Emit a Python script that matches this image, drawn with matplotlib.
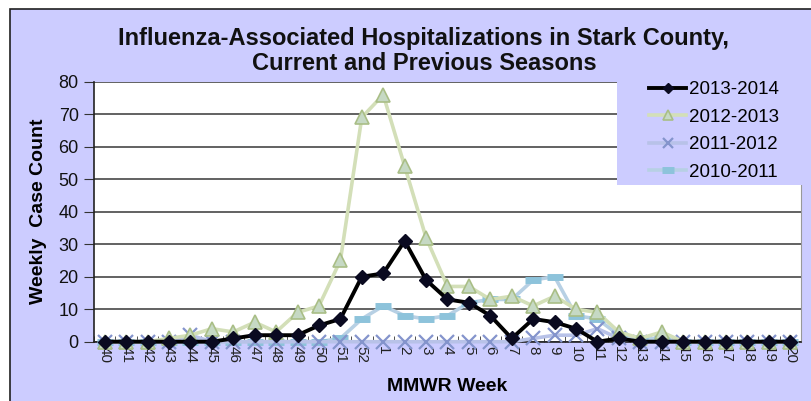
import numpy as np
import matplotlib
matplotlib.use("Agg")
import matplotlib.pyplot as plt

plt.rcParams['font.family'] = ['Liberation Sans', 'DejaVu Sans']

weeks = [str(w) for w in range(40, 53)] + [str(w) for w in range(1, 21)]

# weekly case counts, MMWR week 40 -> week 20
s2013_2014 = [0, 0, 0, 0, 0, 0, 1, 2, 2, 2, 5, 7, 20,
              21, 31, 19, 13, 12, 8, 1, 7, 6, 4, 0, 1, 0, 0, 0, 0, 0, 0, 0, 0]
s2012_2013 = [0, 0, 0, 1, 2, 4, 3, 6, 3, 9, 11, 25, 69,
              76, 54, 32, 17, 17, 13, 14, 11, 14, 10, 9, 3, 1, 3, 0, 0, 0, 0, 0, 0]
s2011_2012 = [0, 0, 0, 0, 2, 0, 0, 0, 0, 0, 0, 0, 0,
              0, 0, 0, 0, 0, 0, 0, 1, 2, 2, 4, 1, 0, 0, 0, 0, 0, 0, 0, 0]
s2010_2011 = [0, 0, 0, 0, 0, 0, 0, 0, 0, 0, 0, 1, 7,
              11, 8, 7, 8, 12, 13, 13, 19, 20, 8, 7, 2, 1, 1, 0, 0, 0, 0, 0, 0]

bg = '#CCCCFF'
W, H = 812, 401

fig = plt.figure(figsize=(W / 100, H / 100), dpi=100)
fig.patch.set_facecolor('white')
# lavender chart panel with dark frame
fig.patches.append(plt.Rectangle((10 / W, -0.01), 1.0, 1 - 9 / H + 0.01,
                                 transform=fig.transFigure, facecolor=bg,
                                 edgecolor='#202020', lw=1.2, zorder=-10))

ax = fig.add_axes([94 / W, 1 - 341.7 / H, 707 / W, 260 / H])
ax.set_facecolor('white')

x = np.arange(len(weeks))

ax.plot(x, s2010_2011, color='#B7D0E4', lw=2.6, marker='_', ms=12, mew=5,
        mec='#8DC3DB', label='2010-2011', zorder=3, clip_on=False)
ax.plot(x, s2011_2012, color='#B8C2E8', lw=2.6, marker='x', ms=10, mew=1.6,
        mec='#8494CC', label='2011-2012', zorder=4, clip_on=False)
ax.plot(x, s2012_2013, color='#D3DFB8', lw=2.6, marker='^', ms=10,
        mfc='#C6D9C4', mec='#A9BE86', mew=1.2, label='2012-2013', zorder=5,
        clip_on=False)
ax.plot(x, s2013_2014, color='black', lw=2.8, marker='D', ms=7.5,
        mfc='#0A0A20', mec='#0A0A20', label='2013-2014', zorder=6, clip_on=False)

ax.set_xlim(-0.5, len(weeks) - 0.5)
ax.set_ylim(0, 80)
ax.set_yticks(range(0, 81, 10))
ax.yaxis.grid(True, color='#555555', lw=1.3)
ax.set_axisbelow(True)

ax.set_xticks(x)
ax.set_xticklabels(weeks, rotation=-90, fontsize=11, color='#222222')
ax.set_xticks(np.arange(-0.5, len(weeks), 1), minor=True)
ax.tick_params(axis='x', which='major', length=0, pad=3)
ax.tick_params(axis='x', which='minor', length=4, direction='in', color='#333333')
ax.tick_params(axis='y', length=7, direction='out', labelsize=13, pad=4,
               color='#333333', labelcolor='#111111')

ax.spines['top'].set_visible(False)
ax.spines['right'].set_color('#999999')
ax.spines['left'].set_color('#222222')
ax.spines['bottom'].set_color('#222222')
ax.spines['left'].set_linewidth(1.2)
ax.spines['bottom'].set_linewidth(1.2)

ax.set_ylabel('Weekly  Case Count', fontsize=14, fontweight='bold', labelpad=8)
ax.set_xlabel('MMWR Week', fontsize=14, fontweight='bold', labelpad=11)

fig.text(0.522, 1 - 38 / H, 'Influenza-Associated Hospitalizations in Stark County,',
         ha='center', va='center', fontsize=17, fontweight='bold', color='#111111')
fig.text(0.522, 1 - 63 / H, 'Current and Previous Seasons',
         ha='center', va='center', fontsize=17, fontweight='bold', color='#111111')

# legend panel covers the top right of the plot area
fig.patches.append(plt.Rectangle((617 / W, 1 - 185 / H), 1.0, 115 / H,
                                 transform=fig.transFigure, facecolor=bg,
                                 edgecolor='none', zorder=8))
handles, labels = ax.get_legend_handles_labels()
order = [3, 2, 1, 0]
leg = fig.legend([handles[i] for i in order], [labels[i] for i in order],
                 loc='upper left', bbox_to_anchor=(640 / W, 1 - 72 / H),
                 frameon=False, fontsize=13.5, handlelength=1.95, handletextpad=0.15,
                 labelspacing=0.55, borderpad=0, markerscale=0.7)
leg.set_zorder(10)

fig.savefig('out.png', dpi=100, facecolor=fig.get_facecolor())
